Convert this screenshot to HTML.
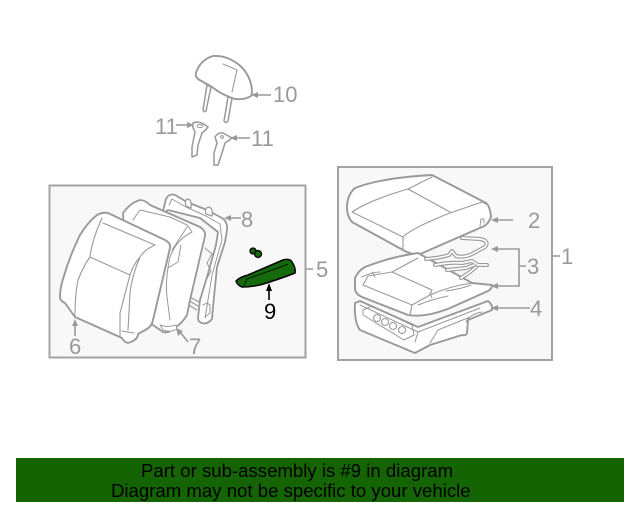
<!DOCTYPE html>
<html><head><meta charset="utf-8"><style>
html,body{margin:0;padding:0;background:#fff}
svg{display:block}
text{font-family:"Liberation Sans",sans-serif}
.d{filter:blur(.3px)}
</style></head><body>
<svg width="640" height="512" viewBox="0 0 640 512" xmlns="http://www.w3.org/2000/svg">
<rect width="640" height="512" fill="#fff"/>
<rect x="49.5" y="185.5" width="256" height="172" fill="#f8f8f8" stroke="#a3a3a3" stroke-width="2"/>
<rect x="338" y="167" width="214" height="193" fill="#f8f8f8" stroke="#a3a3a3" stroke-width="2"/>

<g class="d">
<g fill="#fff" stroke="#999" stroke-width="1.7" stroke-linejoin="round" stroke-linecap="round">
<!-- headrest -->
<path d="M207 85 L203 110 Q204 113 206 111 L211 87Z M228 97 L224 121 Q226 124 228 121 L232 98Z" stroke-width="1.5"/>
<path d="M196 73 Q200 60 213 56 Q226 55 238 64 Q248 72 251 84 Q253 92 251 96 Q245 100 235 99 Q222 95 212 87 Q203 82 198 79 Q195 76 196 73Z" stroke-width="1.9"/>
<path d="M223 64 L237 70 L232 92" fill="none" stroke-width="1.1"/>
<!-- clips -->
<path d="M193 123 Q200 120 208 127 Q205 131 202 133 L198 145 L197 155 L192 157 L192 147 L195 132 Q192 127 193 123Z" stroke-width="1.5"/>
<ellipse cx="200" cy="126" rx="3" ry="1.5" fill="none" stroke-width="1"/>
<path d="M215 137 Q218 132 223 133 L232 138 L225 143 L222 153 L218 165 L214 165 L214 153 L217 143Z" stroke-width="1.5"/>
<circle cx="222" cy="137" r="1.4" fill="none" stroke-width="1"/>

<!-- frame 8 -->
<path d="M162 215 L166 199 Q169 193 175 195 L187 202 L207 210 L222 218 Q228 222 227 230 L225 242 L217 267 L213 307 L212 319 Q207 325 202 323 Q198 322 198 318 L200 300 L207 277 L216 245 L218 232 L200 218 L168 210Z" stroke-width="1.8"/>
<path d="M169 205 L172 199 L186 207 L206 216 L220 224 L222 240 L212 275 L208 300 L205 318" fill="none" stroke-width="1"/>
<path d="M186 206 q-2 -6 2 -7 q4 1 3 9z M206 214 q-2 -6 3 -7 q4 1 3 9z" stroke-width="1.2"/>
<path d="M205 248 l7 6 -5 9 4 8 -6 11 M203 305 q4 -3 7 0 l0 8 -5 4" fill="none" stroke-width="1"/>
<path d="M188 296 L199 302 M188 300 L198 306 M187 304 L197 310" fill="none" stroke-width="1.1"/>

<!-- cover 7 -->
<path d="M123 213 Q130 203 140 200 Q145 200 150 205 L200 227 Q206 231 205 236 L190 300 L187 315 Q183 322 175 328 Q168 334 163 332 L153 325 L128 316Z" stroke-width="1.8"/>
<path d="M133 220 L140 210 L170 217 L187 225 L192 232 Q176 240 170 257 Q165 280 167 297 L170 320 M187 227 L172 250 M168 268 L178 262 L181 245" fill="none" stroke-width="1"/>
<path d="M160 325 Q167 328 176 325 L177 329 Q170 333 163 330Z" stroke-width="1"/>

<!-- back 6 -->
<path d="M60 297 Q60 288 63 279 Q70 255 80 235 Q88 222 97 215 Q102 212 108 213 L165 240 Q171 243 170 248 L153 320 Q152 326 147 329 L138 334 Q138 340 128 343 Q124 342 122 338 L75 317 L65 303 Q60 301 60 297Z" stroke-width="1.9"/>
<path d="M75 315 Q75 295 78 280 Q84 265 90 257 Q92 240 102 218 M90 257 L130 275 M103 223 L155 245 M155 245 Q144 250 140 257 Q133 265 130 275 L120 313 L120 337 M140 257 Q132 275 130 293 L128 330 M122 331 L134 333" fill="none" stroke-width="1.1"/>

<!-- cushion 2 -->
<path d="M347 208 Q347 195 355 188 Q380 178 432 175 L486 203 Q490 206 491 217 Q488 225 482 227 L418 255 Q410 254 403 250 L352 222 Q347 216 347 208Z" stroke-width="1.9"/>
<path d="M352 212 L403 237 L403 250 M403 237 Q412 228 450 213 L482 202 L488 205 M352 212 Q370 200 408 189 L450 212 M408 189 L432 177" fill="none" stroke-width="1.1"/>
<path d="M480 226 L481 219 L484 219 L484 223" fill="none" stroke-width="1"/>

<!-- pad 4 -->
<path d="M355 303 L360 301 L418 327 L488 301 Q493 305 492 310 L468 320 L467 333 Q466 336 462 335 L430 345 L415 353 L360 330 Q354 322 355 303Z" stroke-width="1.9"/>
<path d="M360 305 L418 332 L480 308 M363 310 L372 306 L412 325 L414 335 L404 340 L363 315Z M415 342 L418 332" fill="none" stroke-width="1"/>
<g fill="none" stroke-width="1.1"><circle cx="377" cy="318" r="3.5"/><circle cx="385" cy="322" r="3.5"/><circle cx="393" cy="326" r="3.5"/><circle cx="402" cy="330" r="3.5"/></g>
<path d="M466 322 Q470 314 482 312 M430 343 L438 330 L470 317" fill="none" stroke-width="1"/>

<!-- cushion 3 -->
<path d="M355 278 Q358 271 365 267 Q390 257 418 253 L472 283 L492 285 Q492 289 488 291 L450 308 Q425 318 408 315 L362 297 Q355 294 355 288Z" stroke-width="1.9"/>
<path d="M363 285 L368 276 L392 272 L432 290 L430 295 L412 305 L410 315 M363 285 L412 305 M430 295 Q450 286 472 283 M392 272 L418 258" fill="none" stroke-width="1.1"/>
<path d="M362 277 q10 -5 18 -5 M418 305 q15 -6 30 -9 M446 291 q15 -2 25 -6 M372 272 l3 5 M430 293 l2 5" fill="none" stroke-width="1"/>
</g>

<!-- wires -->
<g fill="none" stroke="#999" stroke-width="4" stroke-linecap="round" stroke-linejoin="round">
<path d="M426 259 Q440 258 449 255 L452 251 L456 256 Q464 258 472 254 L485 247 Q490 241 480 239 L462 238 M435 265 Q450 262 462 263 L472 261 L478 265 L487 265 M447 270 L466 268 L474 265 M461 278 L470 272 L476 267"/>
</g>
<g fill="none" stroke="#fff" stroke-width="1.7" stroke-linecap="round" stroke-linejoin="round">
<path d="M426 259 Q440 258 449 255 L452 251 L456 256 Q464 258 472 254 L485 247 Q490 241 480 239 L462 238 M435 265 Q450 262 462 263 L472 261 L478 265 L487 265 M447 270 L466 268 L474 265 M461 278 L470 272 L476 267"/>
</g>

<!-- part 9 -->
<path d="M236 281 Q240 277 248 275 L283 260 Q290 258 292 262 Q296 268 295 273 Q280 279 260 285 Q250 287 242 287 Q237 285 236 281Z" fill="#146a0c" stroke="#000" stroke-width="1.5" stroke-linejoin="round"/>
<path d="M244 286 L247 279 L275 269 L288 264" fill="none" stroke="#000" stroke-width=".8"/>
<circle cx="253" cy="251" r="3" fill="#146a0c" stroke="#000" stroke-width="1.3"/>
<circle cx="258" cy="254" r="3.5" fill="#146a0c" stroke="#000" stroke-width="1.3"/>
</g>

<!-- leaders -->
<g stroke="#999" stroke-width="1.6" fill="none">
<path d="M271 95 H256 M176 125 H190 M250 138 H234 M241 218 H227 M313 269 H306 M513 220 H495 M495 249 H519 V286 H495 M519 266 H526 M530 308 H495 M560 256 H552 M75 325 V336 M180 332 L188 342"/>
</g>
<g fill="#999">
<path d="M251 95 L258 92 V98Z M194 125 L187 122 V128Z M230 138 L237 135 V141Z M224 218 L231 215 V221Z M491 220 L498 217 V223Z M491 249 L498 246 V252Z M491 286 L498 283 V289Z M491 308 L498 305 V311Z M75 319 L72 326 H78Z M176 328 L183 331 L178 336Z"/>
</g>
<path d="M269 290 V300" stroke="#000" stroke-width="1.6"/>
<path d="M269 283 L266 291 H272Z" fill="#000"/>

<!-- labels -->
<g font-size="22" fill="#999" text-anchor="start">
<text x="273" y="102">10</text>
<text x="155" y="134">11</text>
<text x="251" y="146">11</text>
<text x="241" y="227">8</text>
<text x="316" y="277">5</text>
<text x="69" y="354">6</text>
<text x="189" y="354">7</text>
<text x="528" y="228">2</text>
<text x="527" y="274">3</text>
<text x="530" y="316">4</text>
<text x="561" y="264">1</text>
</g>
<text x="264" y="319" font-size="22" fill="#000">9</text>

<!-- banner -->
<rect x="16" y="458" width="608" height="44" fill="#146404"/>
<g font-size="18.6" fill="#000" text-anchor="start">
<text x="141" y="477">Part or sub-assembly is #9 in diagram</text>
<text x="111" y="497">Diagram may not be specific to your vehicle</text>
</g>
</svg>
</body></html>
